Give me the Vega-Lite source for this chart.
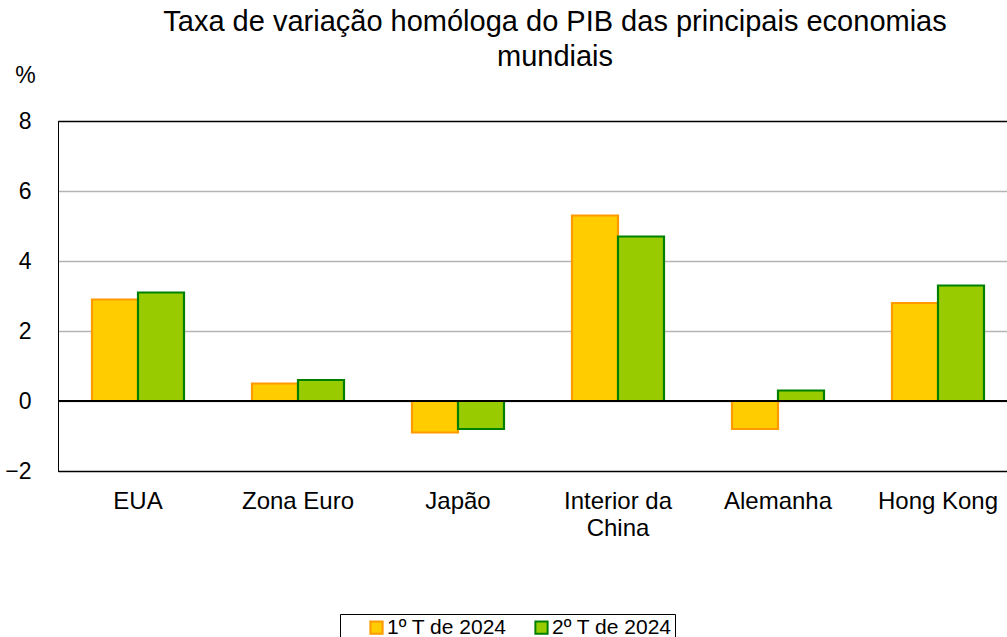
{
  "$schema": "https://vega.github.io/schema/vega-lite/v6.json",
  "autosize": "none",
  "padding": {"left": 58, "top": 121, "right": 0, "bottom": 166},
  "width": 960,
  "height": 350,
  "background": "white",
  "config": {
    "font": "Liberation Sans",
    "view": {"stroke": "black", "strokeWidth": 1}
  },
  "title": {
    "text": ["Taxa de variação homóloga do PIB das principais economias", "mundiais"],
    "fontSize": 29,
    "fontWeight": "normal",
    "color": "black",
    "anchor": "middle",
    "frame": "group",
    "dx": 17,
    "offset": -8,
    "lineHeight": 35
  },
  "data": {
    "values": [
      {"pais": "EUA", "serie": "1º T de 2024", "valor": 2.9},
      {"pais": "EUA", "serie": "2º T de 2024", "valor": 3.1},
      {"pais": "Zona Euro", "serie": "1º T de 2024", "valor": 0.5},
      {"pais": "Zona Euro", "serie": "2º T de 2024", "valor": 0.6},
      {"pais": "Japão", "serie": "1º T de 2024", "valor": -0.9},
      {"pais": "Japão", "serie": "2º T de 2024", "valor": -0.8},
      {"pais": "Interior da China", "serie": "1º T de 2024", "valor": 5.3},
      {"pais": "Interior da China", "serie": "2º T de 2024", "valor": 4.7},
      {"pais": "Alemanha", "serie": "1º T de 2024", "valor": -0.8},
      {"pais": "Alemanha", "serie": "2º T de 2024", "valor": 0.3},
      {"pais": "Hong Kong", "serie": "1º T de 2024", "valor": 2.8},
      {"pais": "Hong Kong", "serie": "2º T de 2024", "valor": 3.3}
    ]
  },
  "layer": [
    {
      "mark": {"type": "bar", "strokeWidth": 2.2},
      "encoding": {
        "x": {
          "field": "pais",
          "type": "nominal",
          "sort": null,
          "scale": {"paddingInner": 0.425, "paddingOuter": 0.2125},
          "axis": {
            "title": null,
            "ticks": false,
            "domain": true,
            "domainColor": "black",
            "orient": "bottom",
            "labelAngle": 0,
            "labelFontSize": 24,
            "labelColor": "black",
            "labelPadding": 18,
            "labelBaseline": "top",
            "labelLineHeight": 27,
            "labelLimit": 300,
            "labelExpr": "datum.label == 'Interior da China' ? ['Interior da', 'China'] : datum.label"
          }
        },
        "xOffset": {"field": "serie", "type": "nominal", "scale": {"paddingInner": 0, "paddingOuter": 0}},
        "y": {
          "field": "valor",
          "type": "quantitative",
          "scale": {"domain": [-2, 8], "nice": false, "zero": false},
          "axis": {
            "title": "%",
            "titleAngle": 0,
            "titleFontSize": 23,
            "titleFontWeight": "normal",
            "titleColor": "black",
            "titleX": -33,
            "titleY": -46,
            "titleAlign": "center",
            "titleBaseline": "middle",
            "values": [-2, 0, 2, 4, 6, 8],
            "labelFontSize": 23,
            "labelColor": "black",
            "labelPadding": 27,
            "ticks": false,
            "domainColor": "black",
            "grid": true,
            "gridColor": {"condition": {"test": "datum.value == 8 || datum.value == -2", "value": "black"}, "value": "#b3b3b3"},
            "gridWidth": 1.5
          }
        },
        "fill": {
          "field": "serie",
          "type": "nominal",
          "scale": {"range": ["#FFCC00", "#99CC00"]},
          "legend": {
            "title": null,
            "orient": "none",
            "legendX": 282,
            "legendY": 493,
            "direction": "horizontal",
            "strokeColor": "black",
            "padding": 3,
            "symbolOffset": 23,
            "symbolType": "square",
            "symbolSize": 150,
            "symbolStrokeWidth": 2,
            "labelFontSize": 21,
            "labelColor": "black",
            "labelOffset": 0,
            "columnPadding": 1,
            "labelLimit": 300
          }
        },
        "stroke": {
          "field": "serie",
          "type": "nominal",
          "scale": {"range": ["#FF9900", "#008000"]},
          "legend": null
        }
      }
    },
    {
      "mark": {"type": "rule", "color": "black", "strokeWidth": 1.5},
      "encoding": {"y": {"datum": 0, "type": "quantitative"}}
    }
  ]
}
